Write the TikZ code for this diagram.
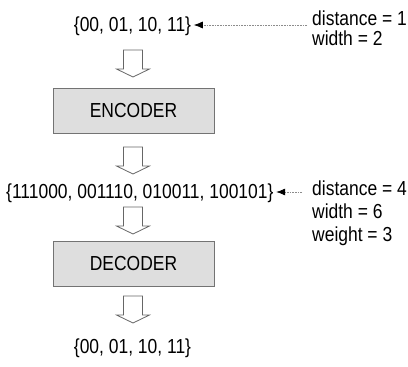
\documentclass[tikz,border=0pt]{standalone}
\usepackage{fontspec}
\setmainfont{Liberation Sans}[FakeStretch=0.86]
\usetikzlibrary{arrows.meta,calc}
\begin{document}
\begin{tikzpicture}[x=1pt,y=-1pt,
  every node/.style={inner sep=0pt, font=\fontsize{20.3}{24}\selectfont},
  blockbox/.style={draw=black!55, fill=black!13, line width=0.9pt,
    minimum width=161pt, minimum height=45pt},
  annot/.style={anchor=base west},
  pointer/.style={draw=black!45, line width=0.7pt, dash pattern=on 0.8pt off 0.8pt,
    -{Latex[length=9pt,width=7pt,black]}},
  hollow/.style={draw=black!60, line width=0.8pt, fill=white},
  pics/downarrow/.style={code={
    \draw[hollow] (-9.5,0) -- (-9.5,19) -- (-16.5,19) -- (0,27)
      -- (16.5,19) -- (9.5,19) -- (9.5,0) -- cycle;}}
]
\useasboundingbox (0,0) rectangle (408,367);

% code sets and processing blocks
\node[anchor=base] (top) at (132.5,31) {\{00, 01, 10, 11\}};
\node[blockbox] (enc) at (133.5,111) {ENCODER};
\node[anchor=base west] (mid) at (6,198) {\{111000, 001110, 010011, 100101\}};
\node[blockbox] (dec) at (133.5,263.5) {DECODER};
\node[anchor=base] (bot) at (132.5,353) {\{00, 01, 10, 11\}};

% hollow flow arrows
\pic at (133,50) {downarrow};
\pic at (133,147) {downarrow};
\pic at (133,207) {downarrow};
\pic at (133,296) {downarrow};

% annotations
\node[annot] (d1) at (312,25) {distance = 1};
\node[annot] (w1) at (312,45) {width = 2};
\node[annot] (d2) at (312,195) {distance = 4};
\node[annot] (w2) at (312,218) {width = 6};
\node[annot] (g2) at (312,241) {weight = 3};

\coordinate (p1) at (307,25);
\coordinate (p2) at (302,192);
\draw[pointer] (p1) -- ([xshift=2.5pt]top.east |- p1);
\draw[pointer] (p2) -- ([xshift=2.5pt]mid.east |- p2);
\end{tikzpicture}
\end{document}
